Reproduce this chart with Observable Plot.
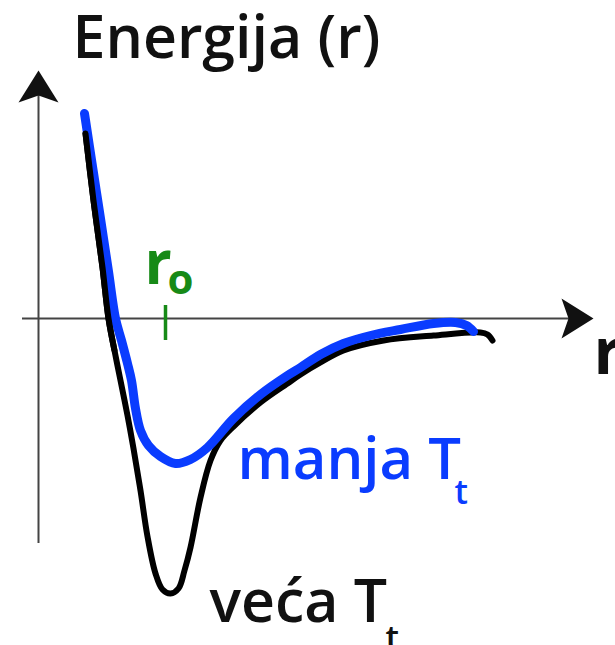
<!DOCTYPE html>
<html>
<head>
<meta charset="utf-8">
<script src="https://cdn.jsdelivr.net/npm/d3@7"></script>
<script src="https://cdn.jsdelivr.net/npm/@observablehq/plot@0.6"></script>
<style>
  html, body { margin: 0; padding: 0; background: #fff; }
  #chart svg { display: block; }
</style>
</head>
<body>
<div id="chart"></div>
<script>
// Schematic potential-energy curves E(r); arbitrary units (r to the right, E up, axis at E = 0)
const blueR = [84, 92, 100, 108, 115, 121, 127, 131, 135, 140, 148, 160, 175, 190, 207, 233, 260, 287, 300, 320, 343, 370, 400, 433, 455, 466, 473];
const blueE = [205, 152, 100, 47, 0, -22, -45, -62, -90, -112, -127, -138, -145, -141, -129, -100, -76, -57, -49, -36, -25, -17, -11, -5, -4, -7, -13];

const blackR = [85, 93, 102, 108, 114, 120, 127, 133, 140, 147, 155, 162, 170, 178, 184, 190, 200, 210, 220, 233, 260, 287, 300, 320, 343, 383, 433, 480, 487, 492];
const blackE = [185, 118, 51, 0, -32, -62, -97, -130, -172, -218, -255, -271, -275, -270, -252, -229, -179, -142, -122, -108, -84, -65, -56, -44, -32, -22, -17, -14, -16, -22];

// Axis extents and arrow tips
const axisVertR = 38, axisVertE = [223, -225];
const axisHorizE = 0, axisHorizR = [22, 575];
const arrowTips = [
  {r: 38, E: 248, angle: 0},
  {r: 593, E: 0, angle: 90}
];

// r0 marker
const r0 = 165, r0Tick = [13, -22];

// Labels
const labels = [
  {r: 72, E: 261, text: "Energija (r)", size: 59, weight: 600, color: "#111"},
  {r: 593, E: -55, text: "r", size: 64, weight: 700, color: "#111"},
  {r: 144, E: 35, text: "r", size: 60, weight: 700, color: "#178a17"},
  {r: 167, E: 25, text: "o", size: 42, weight: 700, color: "#178a17"},
  {r: 237, E: -160, text: "manja T", size: 58, weight: 600, color: "#0a3cff"},
  {r: 454, E: -185, text: "t", size: 34, weight: 600, color: "#0a3cff"},
  {r: 209, E: -303, text: "veća T", size: 59, weight: 600, color: "#111"},
  {r: 385, E: -331, text: "t", size: 34, weight: 600, color: "#111"}
];

const toRows = (R, E) => R.map((r, i) => ({r, E: E[i]}));
const blue = toRows(blueR, blueE);
const black = toRows(blackR, blackE);

const arrowSymbol = {
  draw(context, size) {
    const s = Math.sqrt(size / Math.PI);
    context.moveTo(0, 0);
    context.lineTo(-s, 1.6 * s);
    context.lineTo(0, 1.25 * s);
    context.lineTo(s, 1.6 * s);
    context.closePath();
  }
};

const textMarks = labels.map(d => Plot.text([d], {
  x: "r", y: "E", text: "text",
  textAnchor: "start", lineAnchor: "bottom",
  fontSize: d.size, fontWeight: d.weight, fill: d.color,
  fontFamily: "Open Sans"
}));

const lineOpts = {x: "r", y: "E", curve: "catmull-rom", strokeLinecap: "round", strokeLinejoin: "round"};

const chart = Plot.plot({
  width: 615,
  height: 645,
  margin: 0,
  x: {domain: [0, 615], axis: null},
  y: {domain: [-327, 318], axis: null},
  style: {background: "#fff", fontFamily: "Open Sans"},
  marks: [
    Plot.ruleX([axisVertR], {y1: axisVertE[0], y2: axisVertE[1], stroke: "#444", strokeWidth: 2}),
    Plot.ruleY([axisHorizE], {x1: axisHorizR[0], x2: axisHorizR[1], stroke: "#444", strokeWidth: 2}),
    Plot.dot(arrowTips, {x: "r", y: "E", rotate: "angle", symbol: arrowSymbol, r: 20, fill: "#111", stroke: "none"}),
    Plot.ruleX([r0], {y1: r0Tick[0], y2: r0Tick[1], stroke: "#178a17", strokeWidth: 3.5}),
    Plot.line(black, {...lineOpts, stroke: "#000", strokeWidth: 6}),
    Plot.line(blue, {...lineOpts, stroke: "#0a3cff", strokeWidth: 9}),
    Plot.line(black.filter(d => d.r < 120), {...lineOpts, stroke: "#000", strokeWidth: 6}),
    ...textMarks
  ]
});

document.getElementById("chart").append(chart);
</script>
</body>
</html>
